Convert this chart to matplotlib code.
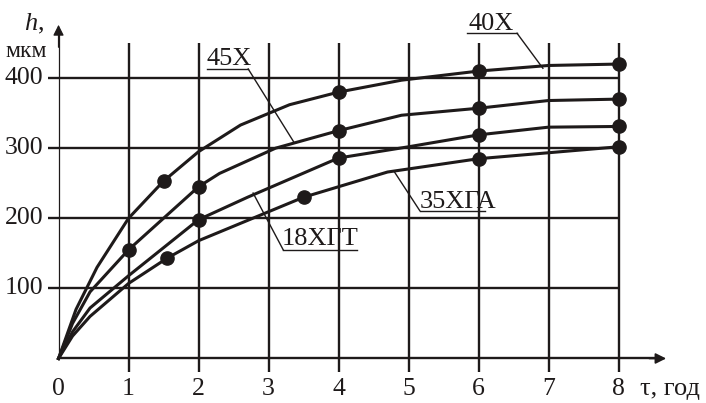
import matplotlib.pyplot as plt

plt.rcParams['font.family'] = ['Liberation Serif', 'DejaVu Serif']

ink = '#1e1a1a'

# кривые h(tau) для четырех сталей
t_40 = [0, 0.25, 0.55, 1, 1.5, 2, 2.6, 3.3, 4, 4.9, 6, 7, 8]
h_40 = [0, 70, 130, 200, 253, 295, 333, 362, 380, 397, 410, 418, 420]
t_45 = [0, 0.2, 0.45, 1, 2, 2.3, 3.1, 4, 4.9, 6, 7, 8]
h_45 = [0, 50, 95, 155, 245, 264, 300, 325, 347, 357, 368, 370]
t_18 = [0, 0.2, 0.45, 1, 2, 2.7, 4, 5, 6, 7, 8]
h_18 = [0, 38, 72, 118, 198, 230, 286, 302, 319, 330, 331]
t_35 = [0, 0.2, 0.45, 1, 1.55, 2, 3.5, 4.7, 6, 8]
h_35 = [0, 32, 60, 107, 143, 168, 230, 266, 285, 302]

# экспериментальные точки
pt_40 = ([1.5, 4, 6, 8], [253, 380, 410, 420])
pt_45 = ([1, 2, 4, 6, 8], [155, 245, 325, 357, 370])
pt_18 = ([2, 4, 6, 8], [198, 286, 319, 331])
pt_35 = ([1.55, 3.5, 6, 8], [143, 230, 285, 302])

x_ticks = [0, 1, 2, 3, 4, 5, 6, 7, 8]
y_ticks = [100, 200, 300, 400]

fig = plt.figure(figsize=(7.06, 4.03), dpi=100)
ax = fig.add_axes([0, 0, 1, 1])
ax.set_xlim(-0.836, 9.25)
ax.set_ylim(-63.5, 511.4)
ax.axis('off')

# сетка
for x in x_ticks[1:]:
    ax.plot([x, x], [-19, 450], color=ink, lw=1.7, solid_capstyle='butt')
for y in y_ticks:
    ax.plot([-0.15, 8], [y, y], color=ink, lw=1.7, solid_capstyle='butt')

# оси со стрелками
ax.plot([0, 8.6], [0, 0], color=ink, lw=1.7)
ax.annotate('', xy=(8.72, 0), xytext=(8.4, 0),
            arrowprops=dict(arrowstyle='-|>', color=ink, lw=1.2, mutation_scale=16))
ax.plot([0, 0], [0, 465], color=ink, lw=0.9)
ax.annotate('', xy=(0, 480), xytext=(0, 440),
            arrowprops=dict(arrowstyle='-|>', color=ink, lw=0.9, mutation_scale=16))

for t, h, pts in [(t_40, h_40, pt_40), (t_45, h_45, pt_45),
                  (t_18, h_18, pt_18), (t_35, h_35, pt_35)]:
    ax.plot(t, h, color=ink, lw=2.2, solid_joinstyle='round')
    ax.plot(pts[0], pts[1], 'o', color=ink, ms=9.5)

# подписи делений
for x in x_ticks:
    ax.text(x, -44, str(x), ha='center', va='center', fontsize=18.5, color=ink)
for y in y_ticks:
    ax.text(-0.22, y, str(y), ha='right', va='center', fontsize=18.5, color=ink)

ax.text(-0.49, 469, 'h', style='italic', fontsize=19, ha='left', va='baseline', color=ink)
ax.text(-0.29, 469, ',', fontsize=19, ha='left', va='baseline', color=ink)
ax.text(-0.76, 430, 'мкм', fontsize=17, ha='left', va='baseline', color=ink)
ax.text(8.3, -44, 'τ, год', fontsize=19, ha='left', va='center', color=ink)

# марки сталей с выносками
labels = [
    ('40X', 5.85, 469, 5.84, 6.55, 464, 6.55, 6.92, 414),
    ('45X', 2.12, 419, 2.12, 2.71, 413, 2.71, 3.36, 309),
    ('35XГА', 5.16, 214, 5.16, 6.09, 211, 5.16, 4.8, 266),
    ('18XГТ', 3.19, 162, 3.21, 4.26, 155, 3.21, 2.78, 236),
]
for name, tx, ty, u0, u1, uy, lx, px, py in labels:
    ax.text(tx, ty, name, fontsize=19, ha='left', va='baseline', color=ink)
    ax.plot([u0, u1], [uy, uy], color=ink, lw=1.0)
    ax.plot([lx, px], [uy, py], color=ink, lw=1.0)

fig.savefig('out.png', dpi=100)
